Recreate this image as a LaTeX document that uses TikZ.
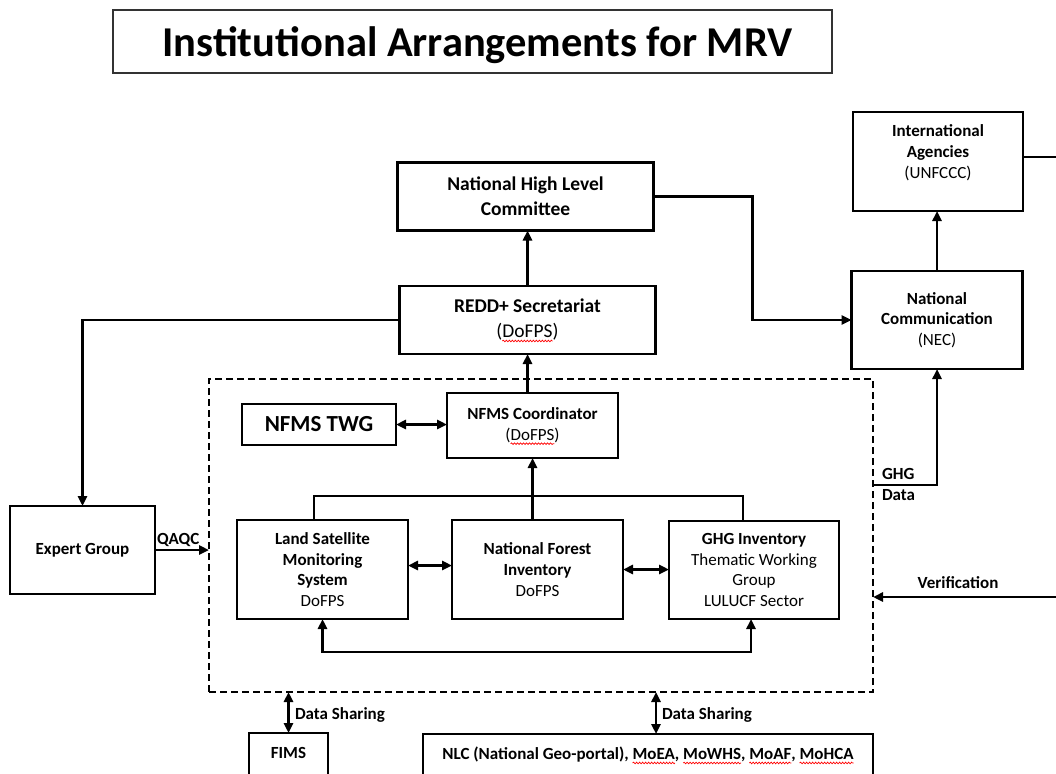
\documentclass[tikz,border=0pt]{standalone}
\usepackage{fontspec}
\setmainfont{Carlito}
\usetikzlibrary{arrows.meta,decorations.pathmorphing}
% red wavy underline, as a spell checker marks a word
\newsavebox\spellbox
\newlength\spellwd
\newcommand\spellmark[1]{%
  \sbox\spellbox{#1}\setlength\spellwd{\wd\spellbox}%
  \rlap{\tikz[overlay]\draw[red, line width=0.7pt, decorate,
      decoration={snake, amplitude=0.8pt, segment length=3pt}]
      (0pt,-3pt) -- (\spellwd,-3pt);}%
  \usebox\spellbox}
\begin{document}
\begin{tikzpicture}[x=1pt,y=-1pt,
  every node/.style={inner sep=0pt, outer sep=0pt},
  box/.style={draw, line width=2.6pt, align=center, font=\fontsize{17}{20.8}\selectfont},
  big/.style={font=\fontsize{19.5}{25}\selectfont},
  lbl/.style={font=\fontsize{17}{21}\selectfont\bfseries},
  link/.style={line width=2.6pt},
  tip/.style={-{Triangle[length=10pt,width=9pt]}},
  both/.style={{Triangle[length=10pt,width=9pt]}-{Triangle[length=10pt,width=9pt]}},
]
\useasboundingbox (0,0) rectangle (1056,773);
\fill[white] (0,0) rectangle (1056,773);
\clip (0,0) rectangle (1056,773);

% heading
\node[draw=black!80, line width=1.2pt, minimum width=719pt, minimum height=63pt] (title) at (472.5,41.5) {};
\node[anchor=base, font=\fontsize{42.5}{50}\selectfont\bfseries] (titletext) at (477.5,56.7)
      {Institutional Arrangements for MRV};

% upper level
\node[box, big, minimum width=256pt, minimum height=68pt] (nhlc) at (525.5,196.5)
      {\textbf{National High Level}\\\textbf{Committee}};
\node[box, big, minimum width=256pt, minimum height=68pt] (redd) at (527.5,320)
      {\textbf{REDD+ Secretariat}\\(\spellmark{DoFPS})};
\node[box, minimum width=170pt, minimum height=99pt] (ia) at (938,161.5) {};
\node[box, draw=none] (iatext) at (938,153)
      {\textbf{International}\\\textbf{Agencies}\\(UNFCCC)};
\node[box, minimum width=171pt, minimum height=98pt] (nc) at (937,320)
      {\textbf{National}\\\textbf{Communication}\\(NEC)};
\node[box, minimum width=145pt, minimum height=88pt] (expert) at (82.5,550)
      {\textbf{Expert Group}};

% NFMS group
\node[draw, dash pattern=on 7pt off 4pt, line width=2.4pt,
      minimum width=664pt, minimum height=313pt] (nfms) at (541,535.5) {};
\node[box, minimum width=154pt, minimum height=41pt,
      font=\fontsize{23}{27}\selectfont\bfseries] (twg) at (319,424.5) {NFMS TWG};
\node[box, minimum width=171pt, minimum height=65pt] (coord) at (532.5,425.5)
      {\textbf{NFMS Coordinator}\\(\spellmark{DoFPS})};
\node[box, minimum width=171pt, minimum height=99pt] (lsms) at (322.5,569.5)
      {\textbf{Land Satellite}\\\textbf{Monitoring}\\\textbf{System}\\DoFPS};
\node[box, minimum width=171pt, minimum height=99pt] (nfi) at (537.5,569.5)
      {\textbf{National Forest}\\\textbf{Inventory}\\DoFPS};
\node[box, minimum width=170pt, minimum height=98pt] (ghg) at (754,570)
      {\textbf{GHG Inventory}\\Thematic Working\\Group\\LULUCF Sector};

% data partners
\node[box, minimum width=79pt, minimum height=70pt, anchor=north] (fims) at (288.5,733) {};
\node[lbl] (fimstext) at (288.5,753) {FIMS};
\node[box, minimum width=450pt, minimum height=70pt, anchor=north] (nlc) at (648,734) {};
\node[lbl] (nlctext) at (648,755)
      {NLC (National Geo-portal), \spellmark{MoEA}, \spellmark{MoWHS}, \spellmark{MoAF}, \spellmark{MoHCA}};

% connector labels
\node[lbl, anchor=base west] (qaqc) at (157,544) {QAQC};
\node[lbl, anchor=base west] (ghgl) at (882,479) {GHG};
\node[lbl, anchor=base west] (datal) at (882,500) {Data};
\node[lbl, anchor=base] (verl) at (958,588) {Verification};
\node[lbl, anchor=base west] (ds1) at (295,719) {Data Sharing};
\node[lbl, anchor=base west] (ds2) at (662,719) {Data Sharing};

% helper coordinates
\coordinate (rightedge) at (1056,0);
\coordinate (bar) at (0,496);
\coordinate (loop) at (0,652);
\coordinate (ghgline) at (0,485);
\coordinate (veredge) at (1056,597);

% connectors
\draw[link, tip] (redd.north) -- (redd.north |- nhlc.south);
\draw[link, tip] (nhlc.east) -- ++(99,0) |- (nc.west);
\draw[link, tip] (nc.north) -- (nc.north |- ia.south);
\draw[link] ([yshift=4.5pt]ia.east) -- ([yshift=4.5pt]ia.east -| rightedge);
\draw[link, tip] (redd.west) -| (expert.north);
\draw[link, tip] (expert.east) -- (expert.east -| nfms.west);
\draw[link, tip] (coord.north -| redd.south) -- (redd.south);
\draw[link, both] (twg.east) -- (twg.east -| coord.west);
\draw[link, tip] (nfi.north -| coord.south) -- (coord.south);
\draw[link] ([xshift=-8.5pt]lsms.north) |- ([xshift=-11pt]ghg.north |- bar) -- ([xshift=-11pt]ghg.north);
\draw[link, both] ([yshift=4pt]lsms.east) -- ([yshift=4pt]lsms.east -| nfi.west);
\draw[link, both] (nfi.east) -- (nfi.east -| ghg.west);
\draw[link, both] (lsms.south) |- ([xshift=-3pt]ghg.south |- loop) -- ([xshift=-3pt]ghg.south);
\draw[link, tip] (nfms.east |- ghgline) -| (nc.south);
\draw[link, tip] (veredge) -- (veredge -| nfms.east);
\draw[link, both] (fims.north |- nfms.south) -- (fims.north);
\draw[link, both] ([xshift=8pt]nlc.north |- nfms.south) -- ([xshift=8pt]nlc.north);
\end{tikzpicture}
\end{document}
